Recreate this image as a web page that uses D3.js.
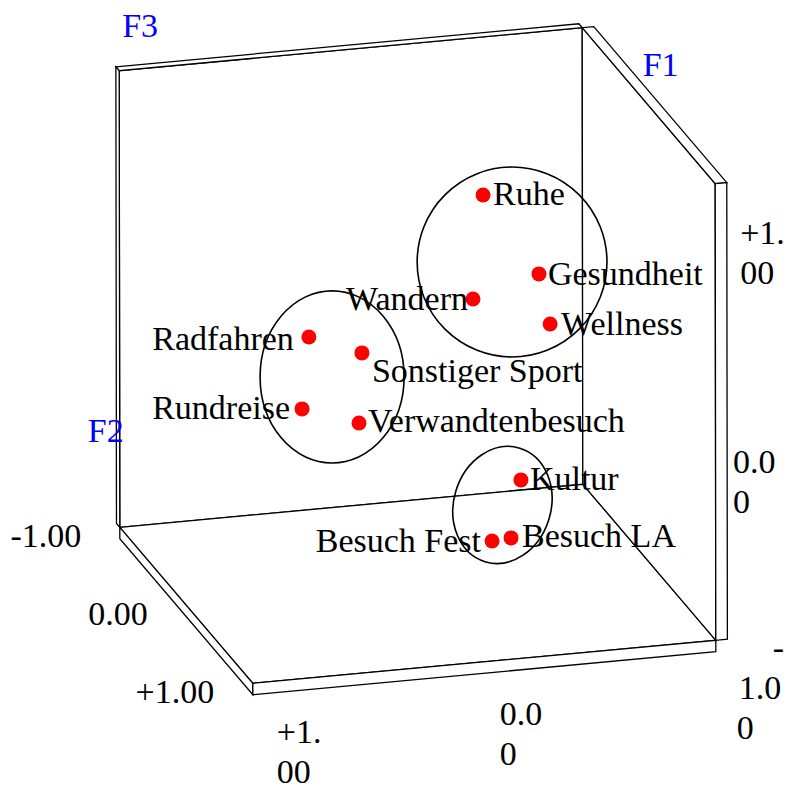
<!DOCTYPE html>
<html>
<head>
<meta charset="utf-8">
<script src="https://cdn.jsdelivr.net/npm/d3@7"></script>
<style>
  html, body { margin: 0; padding: 0; background: #fff; }
  svg { display: block; }
  text { font-family: "Liberation Serif", "Times New Roman", serif; font-size: 34px; }
</style>
</head>
<body>
<svg id="chart" width="786" height="785"></svg>
<script>
// ---- data -------------------------------------------------------------
// Activities with their scores on F1 (horizontal) and F3 (vertical);
// the points sit on the mid-depth plane of the F2 axis.
const activities = ["Ruhe", "Gesundheit", "Wandern", "Wellness", "Radfahren",
  "Sonstiger Sport", "Rundreise", "Verwandtenbesuch", "Kultur", "Besuch LA", "Besuch Fest"];
const scoreF1 = [-0.284, -0.525, -0.240, -0.573, 0.469, 0.240, 0.499, 0.253, -0.446, -0.403, -0.321];
const scoreF3 = [0.676, 0.308, 0.225, 0.084, 0.125, 0.034, -0.187, -0.272, -0.587, -0.837, -0.843];

// Cluster outlines: centre and half-extent on F1 / F3, tilt in degrees
const clusterF1 = [-0.409, 0.369, -0.366];
const clusterF3 = [0.371, -0.059, -0.689];
const clusterSpanF1 = [0.410, 0.311, 0.210];
const clusterSpanF3 = [0.416, 0.377, 0.260];
const clusterTilt = [0, 0, 17];

// Axis names and tick labels
const axisNames = ["F1", "F2", "F3"];
const tickValues = [1, 0, -1];
const tickLabels = ["+1.00", "0.00", "-1.00"];
const depthTickValues = [-1, 0, 1];
const depthTickLabels = ["-1.00", "0.00", "+1.00"];

// ---- projection of the unit cube --------------------------------------
const origin = [417.5, 355.5];
const sF1 = d3.scaleLinear().domain([-1, 1]).range([[231.5, -21.5], [-231.5, 21.5]]);
const sF3 = d3.scaleLinear().domain([-1, 1]).range([[0.3, 228.3], [-0.3, -228.3]]);
const sF2 = d3.scaleLinear().domain([-1, 1]).range([[-66.5, -78], [66.5, 78]]);

function proj(f1, f3, f2) {
  const [ax, ay] = sF1(f1);
  const [bx, by] = sF3(f3);
  const [cx, cy] = sF2(f2);
  return [origin[0] + ax + bx + cx, origin[1] + ay + by + cy];
}
const unitX = Math.abs(sF1(1)[0] - sF1(0)[0]);
const unitY = Math.abs(sF3(1)[1] - sF3(0)[1]);

const svg = d3.select("#chart");
const gBox = svg.append("g");
const thick = 0.05;

function quad(corners) {
  return "M" + corners.map(c => proj(c[0], c[1], c[2]).join(",")).join("L") + "Z";
}

// back wall (F2 = -1), slab behind it
const back = [
  [[1, 1, -1], [-1, 1, -1], [-1, -1, -1], [1, -1, -1]],
  [[1, 1, -1 - thick], [-1, 1, -1 - thick], [-1, 1, -1], [1, 1, -1]],
  [[1, 1, -1 - thick], [1, 1, -1], [1, -1, -1], [1, -1, -1 - thick]]
];
// floor (F3 = -1), slab below it
const floor = [
  [[1, -1, -1], [-1, -1, -1], [-1, -1, 1], [1, -1, 1]],
  [[1, -1, -1], [1, -1, 1], [1, -1 - thick, 1], [1, -1 - thick, -1]],
  [[1, -1, 1], [-1, -1, 1], [-1, -1 - thick, 1], [1, -1 - thick, 1]]
];
// side wall (F1 = -1), slab to its right
const side = [
  [[-1, 1, -1], [-1, 1, 1], [-1, -1, 1], [-1, -1, -1]],
  [[-1, 1, -1], [-1, 1, 1], [-1 - thick, 1, 1], [-1 - thick, 1, -1]],
  [[-1, 1, 1], [-1, -1, 1], [-1 - thick, -1, 1], [-1 - thick, 1, 1]]
];

gBox.selectAll("path")
  .data([...back, ...floor, ...side])
  .join("path")
  .attr("d", quad)
  .attr("fill", "#fff")
  .attr("stroke", "#000")
  .attr("stroke-width", 1.3)
  .attr("stroke-linejoin", "miter");

// ---- axis names ---------------------------------------------------------
const nameAnchors = [proj(-1, 1, 0), proj(1, -1, -1), proj(1, 1, -1)];
const nameNudge = [[-6, -30], [-32, -85], [3, -34]];
svg.append("g").selectAll("text")
  .data(axisNames)
  .join("text")
  .attr("x", (d, i) => nameAnchors[i][0] + nameNudge[i][0])
  .attr("y", (d, i) => nameAnchors[i][1] + nameNudge[i][1])
  .attr("fill", "#0000ff")
  .text(d => d);

// ---- tick labels ------------------------------------------------------
const gTicks = svg.append("g").attr("fill", "#000");
const lineGap = 40;

// depth axis along the left floor edge
gTicks.append("g").selectAll("text")
  .data(depthTickValues)
  .join("text")
  .attr("text-anchor", "end")
  .attr("x", v => proj(1, -1, v)[0] - 38.5)
  .attr("y", v => proj(1, -1, v)[1] + 20)
  .text((v, i) => depthTickLabels[i]);

// wrapped labels on the front edges
const wrap = { "+1.00": ["+1.", "00"], "0.00": ["0.0", "0"], "-1.00": ["-", "1.0", "0"] };
function wrappedTicks(sel, anchors, labels, nudges) {
  const t = sel.selectAll("text")
    .data(anchors)
    .join("text");
  t.each(function (a, i) {
    const n = nudges[i];
    d3.select(this).selectAll("tspan")
      .data(wrap[labels[i]])
      .join("tspan")
      .attr("x", (s, j) => a[0] + n.dx[j])
      .attr("y", (s, j) => a[1] + n.dy + j * lineGap)
      .text(s => s);
  });
}
// F1 ticks along the bottom front edge (the -1 end shares the corner)
const f1Ticks = tickValues.slice(0, 2);
wrappedTicks(gTicks.append("g"),
  f1Ticks.map(v => proj(v, -1, 1)),
  tickLabels.slice(0, 2),
  [{ dx: [24, 24], dy: 60 }, { dx: [15.5, 15.5], dy: 63.5 }]);
// F3 ticks along the front vertical edge
wrappedTicks(gTicks.append("g"),
  tickValues.map(v => proj(-1, v, 1)),
  tickLabels,
  [{ dx: [25, 25], dy: 60.5 }, { dx: [17.5, 17.5], dy: 61 }, { dx: [57, 23, 21], dy: 19 }]);

// ---- clusters -----------------------------------------------------------
const center0 = proj(0, 0, 0);
svg.append("g").selectAll("ellipse")
  .data(clusterF1)
  .join("ellipse")
  .attr("transform", (d, i) => {
    const c = proj(clusterF1[i], clusterF3[i], 0);
    return `translate(${c[0]},${c[1]}) rotate(${clusterTilt[i]})`;
  })
  .attr("rx", (d, i) => clusterSpanF1[i] * unitX)
  .attr("ry", (d, i) => clusterSpanF3[i] * unitY)
  .attr("fill", "none")
  .attr("stroke", "#000")
  .attr("stroke-width", 1.6);

// ---- points and labels ------------------------------------------------
const pts = activities.map((name, i) => ({ name, p: proj(scoreF1[i], scoreF3[i], 0) }));

svg.append("g").selectAll("circle")
  .data(pts)
  .join("circle")
  .attr("cx", d => d.p[0])
  .attr("cy", d => d.p[1])
  .attr("r", 7.5)
  .attr("fill", "#ff0000");

// label placement next to each point
const labelPlace = {
  "Ruhe": [10, 10, "start"],
  "Gesundheit": [9, 11, "start"],
  "Wandern": [-5, 11, "end"],
  "Wellness": [11, 11, "start"],
  "Radfahren": [-15, 13, "end"],
  "Sonstiger Sport": [10, 29, "start"],
  "Rundreise": [-12, 10, "end"],
  "Verwandtenbesuch": [9, 9, "start"],
  "Kultur": [9, 10, "start"],
  "Besuch LA": [11, 9, "start"],
  "Besuch Fest": [-11, 11, "end"]
};
svg.append("g").selectAll("text")
  .data(pts)
  .join("text")
  .attr("x", d => d.p[0] + labelPlace[d.name][0])
  .attr("y", d => d.p[1] + labelPlace[d.name][1])
  .attr("text-anchor", d => labelPlace[d.name][2])
  .attr("fill", "#000")
  .text(d => d.name);
</script>
</body>
</html>
